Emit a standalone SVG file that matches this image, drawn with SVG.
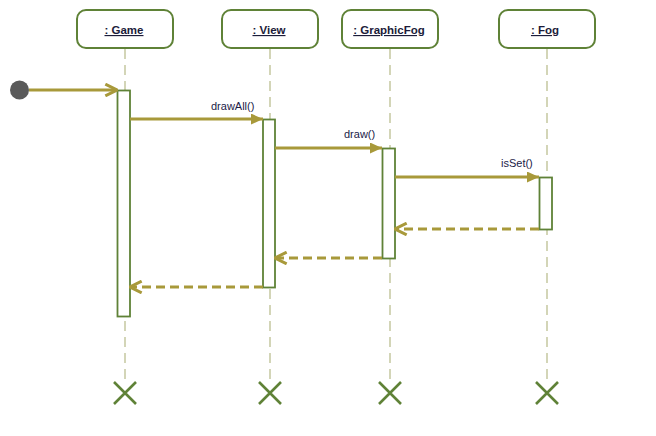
<svg xmlns="http://www.w3.org/2000/svg" width="656" height="436" viewBox="0 0 656 436">
<defs>
<style>
.head{fill:#fff;stroke:#5f8237;stroke-width:2}
.hl{font-family:"Liberation Sans",Arial,sans-serif;font-size:11.5px;font-weight:bold;fill:#1c1c3a;text-anchor:middle;text-decoration:underline}
.life{stroke:#d3d5b7;stroke-width:2;stroke-dasharray:10,6;fill:none}
.act{fill:#fff;stroke:#5f8237;stroke-width:1.8}
.msg{stroke:#a8993a;stroke-width:2.8;fill:none}
.ret{stroke:#a8993a;stroke-width:2.8;fill:none;stroke-dasharray:9,5}
.lbl{font-family:"Liberation Sans",Arial,sans-serif;font-size:11px;fill:#1c1c48}
.x{stroke:#5f8237;stroke-width:2.6;fill:none}
</style>
<marker id="filled" markerWidth="12" markerHeight="11" refX="12" refY="5.5" orient="auto" markerUnits="userSpaceOnUse" viewBox="0 0 12 11">
<path d="M0,0 L12,5.5 L0,11 z" fill="#a8993a"/>
</marker>
<marker id="open" markerWidth="14" markerHeight="14" refX="11" refY="6" orient="auto" markerUnits="userSpaceOnUse" viewBox="0 0 12 12">
<path d="M1,1 L11,6 L1,11" fill="none" stroke="#a8993a" stroke-width="2.6"/>
</marker>
</defs>
<rect width="656" height="436" fill="#fff"/>
<g id="lifelines">
<line class="life" x1="125" y1="49" x2="125" y2="384"/>
<line class="life" x1="270" y1="49" x2="270" y2="384"/>
<line class="life" x1="390" y1="49" x2="390" y2="384"/>
<line class="life" x1="547" y1="49" x2="547" y2="384"/>
</g>
<g id="game">
<rect class="head" x="77" y="10" width="96" height="38" rx="9"/>
<text class="hl" x="124" y="34">: Game</text>
<rect class="act" x="117.5" y="90.5" width="12.5" height="226"/>
<path class="x" d="M114,382 L136,404 M136,382 L114,404"/>
</g>
<g id="view">
<rect class="head" x="222" y="10" width="96" height="38" rx="9"/>
<text class="hl" x="269" y="34">: View</text>
<rect class="act" x="263" y="119.5" width="12" height="168"/>
<path class="x" d="M259,382 L281,404 M281,382 L259,404"/>
</g>
<g id="graphicfog">
<rect class="head" x="342" y="10" width="96" height="38" rx="9"/>
<text class="hl" x="389" y="34">: GraphicFog</text>
<rect class="act" x="382.5" y="148.5" width="12.5" height="110"/>
<path class="x" d="M379,382 L401,404 M401,382 L379,404"/>
</g>
<g id="fog">
<rect class="head" x="499" y="10" width="96" height="38" rx="9"/>
<text class="hl" x="545" y="34">: Fog</text>
<rect class="act" x="539.5" y="177.5" width="12.5" height="52"/>
<path class="x" d="M536,382 L558,404 M558,382 L536,404"/>
</g>
<g id="start">
<circle cx="19.5" cy="90" r="9.5" fill="#5a5a5a"/>
</g>
<g id="connectors">
<line class="msg" x1="29" y1="90" x2="117" y2="90" marker-end="url(#open)"/>
<line class="msg" x1="130" y1="119" x2="263" y2="119" marker-end="url(#filled)"/>
<text class="lbl" x="211" y="110">drawAll()</text>
<line class="msg" x1="275" y1="148" x2="382" y2="148" marker-end="url(#filled)"/>
<text class="lbl" x="344" y="138">draw()</text>
<line class="msg" x1="395" y1="177" x2="539" y2="177" marker-end="url(#filled)"/>
<text class="lbl" x="501" y="167">isSet()</text>
<line class="ret" x1="539" y1="229" x2="395" y2="229" marker-end="url(#open)"/>
<line class="ret" x1="382" y1="258" x2="275" y2="258" marker-end="url(#open)"/>
<line class="ret" x1="263" y1="287" x2="130" y2="287" marker-end="url(#open)"/>
</g>
</svg>
